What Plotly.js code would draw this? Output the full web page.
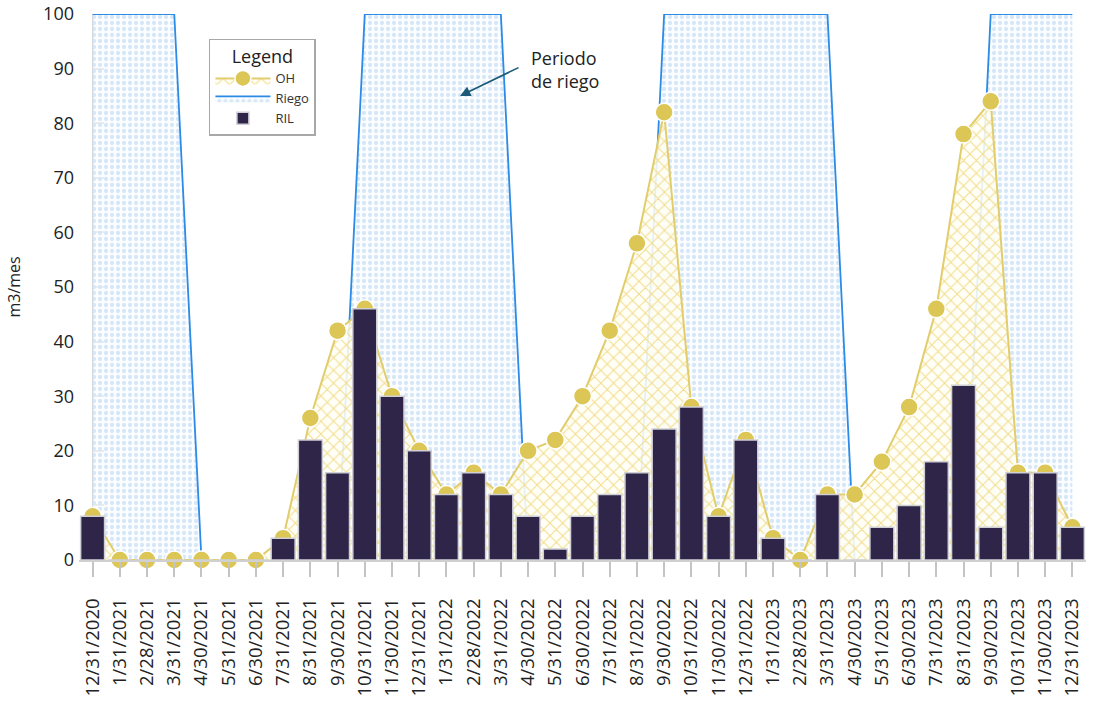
<!DOCTYPE html>
<html>
<head>
<meta charset="utf-8">
<script src="https://cdn.plot.ly/plotly-3.0.1.min.js"></script>
<style>html,body{margin:0;padding:0;background:#fff;}#chart{width:1096px;height:709px;}</style>
</head>
<body>
<div id="chart"></div>
<script>
const categories = ["12/31/2020","1/31/2021","2/28/2021","3/31/2021","4/30/2021","5/31/2021","6/30/2021","7/31/2021","8/31/2021","9/30/2021","10/31/2021","11/30/2021","12/31/2021","1/31/2022","2/28/2022","3/31/2022","4/30/2022","5/31/2022","6/30/2022","7/31/2022","8/31/2022","9/30/2022","10/31/2022","11/30/2022","12/31/2022","1/31/2023","2/28/2023","3/31/2023","4/30/2023","5/31/2023","6/30/2023","7/31/2023","8/31/2023","9/30/2023","10/31/2023","11/30/2023","12/31/2023"];
const riego = [100,100,100,100,0,0,0,0,0,0,100,100,100,100,100,100,0,0,0,0,0,100,100,100,100,100,100,100,0,0,0,0,0,100,100,100,100];
const oh = [8,0,0,0,0,0,0,4,26,42,46,30,20,12,16,12,20,22,30,42,58,82,28,8,22,4,0,12,12,18,28,46,78,84,16,16,6];
const ril = [8,0,0,0,0,0,0,4,22,16,46,30,20,12,16,12,8,2,8,12,16,24,28,8,22,4,0,12,0,6,10,18,32,6,16,16,6];
const yTicks = [0,10,20,30,40,50,60,70,80,90,100];

const FONT = "Open Sans, Noto Sans, sans-serif";
const n = categories.length;

const traces = [
  {
    type: 'scatter', mode: 'lines', name: 'Riego', x: categories, y: riego,
    line: {color: '#2b8be6', width: 1.8},
    fill: 'tozeroy',
    fillpattern: {shape: '.', fgcolor: '#d6e7f8', bgcolor: 'rgba(252,253,255,0.7)', size: 6, solidity: 0.4},
    legendrank: 2, hoverinfo: 'skip', cliponaxis: false
  },
  {
    type: 'scatter', mode: 'lines+markers', name: 'OH', x: categories, y: oh,
    line: {color: '#e2cd6c', width: 2},
    marker: {color: '#dcc655', size: 18, line: {color: '#ffffff', width: 1.5}},
    fill: 'tozeroy',
    fillpattern: {shape: 'x', fgcolor: '#f2dc8c', bgcolor: 'rgba(255,254,246,0.88)', size: 9, solidity: 0.22},
    legendrank: 1, hoverinfo: 'skip', cliponaxis: false
  },
  {
    type: 'bar', name: 'RIL', x: categories, y: ril, xaxis: 'x2', yaxis: 'y2',
    marker: {color: '#2e2549', line: {color: '#cfcfd6', width: 1.5}},
    width: 0.88, legendrank: 3, hoverinfo: 'skip'
  }
];

const layout = {
  width: 1096, height: 709,
  margin: {l: 79, r: 10, t: 14, b: 149},
  paper_bgcolor: '#ffffff', plot_bgcolor: 'rgba(0,0,0,0)',
  font: {family: FONT, color: '#333333'},
  showlegend: true,
  xaxis: {
    type: 'category', range: [-0.5, n - 0.5], domain: [0, 1],
    showline: true, linecolor: '#d0d0d0', linewidth: 2,
    ticks: 'outside', ticklen: 15, tickcolor: '#c4c4c4', tickwidth: 2,
    tickangle: -90, tickfont: {size: 18.5, color: '#222', family: FONT},
    showgrid: false, zeroline: false, fixedrange: true, ticklabelstandoff: 14
  },
  yaxis: {
    range: [0, 100], anchor: 'free', position: 0.5 / n,
    tickvals: yTicks, ticktext: yTicks.map(String),
    showline: true, linecolor: '#cccccc', linewidth: 2,
    ticks: 'inside', ticklen: 10, tickcolor: '#c4c4c4', tickwidth: 2,
    tickfont: {size: 18, color: '#222', family: FONT},
    ticklabelstandoff: 14,
    showgrid: false, zeroline: false, layer: 'below traces',
    title: {text: 'm3/mes', font: {size: 16, color: '#222', family: FONT}, standoff: 18}
  },
  xaxis2: {type: 'category', range: [-0.5, n - 0.5], overlaying: 'x', visible: false, fixedrange: true},
  yaxis2: {range: [0, 100], overlaying: 'y', visible: false, fixedrange: true},
  legend: {
    x: 0.129, y: 0.955, xanchor: 'left', yanchor: 'top',
    bgcolor: '#ffffff', bordercolor: '#a8a8a8', borderwidth: 1.5,
    font: {size: 13, color: '#333', family: FONT},
    title: {text: 'Legend', font: {size: 18, color: '#222', family: FONT}, side: 'top center'},
    itemwidth: 55
  },
  annotations: [
    {x: 13.5, y: 85, xref: 'x', yref: 'y', text: '', showarrow: true,
     ax: 60, ay: -29, axref: 'pixel', ayref: 'pixel',
     arrowhead: 2, arrowsize: 1.3, arrowwidth: 1.6, arrowcolor: '#1d5a78'},
    {x: 16.05, y: 89.8, xref: 'x', yref: 'y', text: 'Periodo<br>de riego', showarrow: false,
     xanchor: 'left', yanchor: 'middle', align: 'left',
     font: {size: 18, color: '#222', family: FONT}}
  ]
};

Plotly.newPlot('chart', traces, layout, {displayModeBar: false, staticPlot: true});
</script>
</body>
</html>
